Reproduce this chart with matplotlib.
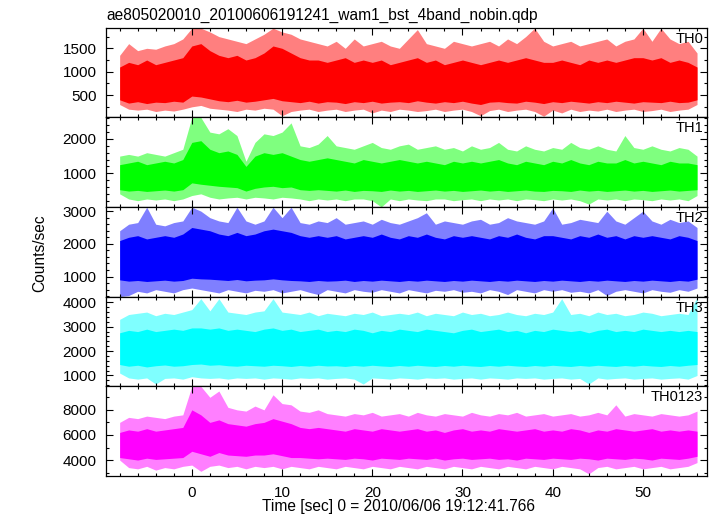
import numpy as np
import matplotlib.pyplot as plt
from matplotlib.ticker import MultipleLocator

plt.rcParams['font.family'] = ['Liberation Sans', 'DejaVu Sans']

title = "ae805020010_20100606191241_wam1_bst_4band_nobin.qdp"
xlabel = "Time [sec] 0 = 2010/06/06 19:12:41.766"
ylabel = "Counts/sec"

# light curves read off per 1 s bin (t = -8 .. 56):
# *_hi / *_lo = spike envelope, *_core_hi / *_core_lo = dense (solid) part
t = np.arange(-8, 57)

th0_hi = [1350, 1600, 1450, 1500, 1480, 1550, 1600, 1700,
          1930, 1930, 1850, 1750, 1700, 1650, 1600, 1700,
          1800, 1930, 1850, 1800, 1700, 1650, 1600, 1550,
          1650, 1500, 1700, 1550, 1600, 1650, 1550, 1500,
          1700, 1900, 1600, 1550, 1500, 1650, 1600, 1550,
          1600, 1650, 1550, 1700, 1600, 1750, 1930, 1650,
          1550, 1600, 1650, 1550, 1600, 1650, 1700, 1550,
          1650, 1700, 1930, 1650, 1930, 1700, 1600, 1650,
          1400]
th0_lo = [300, 200, 180, 200, 150, 180, 160, 200,
          250, 280, 220, 200, 180, 150, 200, 180,
          220, 200, 60, 150, 180, 200, 150, 180,
          200, 150, 180, 200, 120, 180, 150, 200,
          180, 150, 170, 200, 150, 180, 200, 150,
          60, 170, 200, 150, 180, 200, 150, 50,
          180, 120, 200, 150, 180, 160, 200, 150,
          180, 200, 150, 170, 200, 150, 180, 200,
          300]
th0_core_hi = [1100, 1200, 1150, 1250, 1150, 1200, 1250, 1300,
               1550, 1600, 1450, 1350, 1300, 1350, 1250, 1300,
               1400, 1550, 1500, 1400, 1300, 1250, 1250, 1200,
               1250, 1300, 1200, 1250, 1200, 1250, 1150, 1200,
               1250, 1300, 1200, 1250, 1150, 1200, 1250, 1200,
               1150, 1200, 1250, 1200, 1250, 1300, 1250, 1200,
               1200, 1250, 1200, 1150, 1250, 1200, 1250, 1200,
               1250, 1300, 1300, 1250, 1300, 1200, 1250, 1200,
               1100]
th0_core_lo = [400, 330, 360, 320, 350, 340, 370, 350,
               480, 460, 420, 380, 360, 390, 350, 370,
               400, 430, 380, 360, 340, 370, 330, 360,
               350, 320, 360, 340, 370, 330, 350, 360,
               340, 380, 350, 330, 360, 340, 370, 330,
               300, 350, 360, 340, 330, 370, 350, 320,
               360, 340, 370, 350, 330, 360, 340, 370,
               350, 330, 360, 350, 340, 370, 340, 350,
               400]

th1_hi = [1500, 1550, 1500, 1600, 1550, 1500, 1600, 1700,
          2630, 2630, 2200, 2150, 2300, 2100, 1350, 1900,
          2150, 2100, 2200, 2470, 1800, 1750, 1850, 2100,
          1800, 1750, 1700, 1800, 1900, 1750, 1700, 1800,
          1850, 1700, 1750, 1800, 1700, 1750, 1650, 1800,
          1700, 1750, 1900, 1700, 1650, 1800, 1700, 1650,
          1750, 1700, 1900, 1750, 1700, 1800, 1700, 1650,
          2100, 1750, 1700, 1800, 1700, 1650, 1750, 1700,
          1500]
th1_lo = [400, 250, 200, 250, 220, 250, 200, 250,
          350, 400, 300, 250, 280, 300, 250, 300,
          280, 250, 300, 280, 250, 200, 250, 220,
          250, 200, 250, 250, 200, 20, 250, 200,
          250, 220, 200, 250, 250, 200, 230, 250,
          200, 250, 220, 250, 200, 250, 230, 200,
          250, 220, 250, 200, 100, 250, 220, 250,
          200, 250, 230, 200, 250, 220, 250, 200,
          350]
th1_core_hi = [1250, 1300, 1350, 1250, 1300, 1350, 1300, 1400,
               1900, 1950, 1700, 1600, 1650, 1550, 1200, 1500,
               1600, 1550, 1600, 1500, 1400, 1350, 1400, 1450,
               1400, 1350, 1300, 1400, 1350, 1300, 1350, 1400,
               1350, 1300, 1350, 1300, 1250, 1350, 1300, 1350,
               1300, 1350, 1400, 1300, 1250, 1350, 1300, 1250,
               1350, 1300, 1400, 1300, 1250, 1350, 1300, 1300,
               1400, 1300, 1350, 1300, 1250, 1350, 1300, 1300,
               1250]
th1_core_lo = [520, 480, 500, 470, 490, 510, 480, 520,
               720, 680, 650, 620, 600, 580, 480, 560,
               600, 620, 580, 600, 520, 500, 520, 500,
               480, 510, 470, 500, 490, 470, 510, 480,
               500, 470, 490, 510, 480, 500, 470, 490,
               510, 480, 500, 470, 490, 510, 480, 470,
               500, 490, 470, 510, 480, 500, 470, 490,
               510, 480, 500, 470, 490, 510, 480, 500,
               520]

th2_hi = [2400, 2600, 2650, 3120, 2600, 2550, 2650, 2700,
          3120, 3000, 2800, 2700, 2650, 3120, 2700, 2600,
          2700, 3120, 2800, 3120, 2650, 2600, 2700, 2650,
          2800, 2600, 2650, 2700, 2600, 2750, 2650, 2600,
          2700, 2800, 2950, 2600, 2700, 2650, 2600, 2700,
          2750, 2600, 2650, 2800, 2700, 2650, 2600, 2700,
          3100, 2600, 2650, 2750, 2700, 2650, 3000, 2700,
          2600, 2800, 3000, 2700, 2600, 2750, 2650, 2700,
          2500]
th2_lo = [390, 420, 550, 500, 600, 550, 500, 600,
          650, 600, 550, 500, 600, 550, 500, 580,
          550, 600, 500, 550, 600, 520, 450, 600,
          550, 500, 600, 550, 520, 600, 550, 500,
          600, 550, 500, 580, 550, 600, 520, 550,
          500, 600, 550, 450, 600, 550, 500, 600,
          550, 600, 520, 550, 500, 600, 420, 550,
          600, 550, 500, 600, 550, 520, 600, 550,
          650]
th2_core_hi = [2100, 2200, 2250, 2150, 2200, 2250, 2200, 2300,
               2500, 2450, 2400, 2300, 2250, 2350, 2250, 2300,
               2400, 2450, 2400, 2350, 2250, 2200, 2250, 2200,
               2250, 2150, 2200, 2250, 2200, 2300, 2200, 2150,
               2250, 2200, 2300, 2200, 2150, 2250, 2200, 2250,
               2200, 2150, 2250, 2200, 2300, 2200, 2150, 2250,
               2250, 2200, 2150, 2250, 2200, 2300, 2200, 2250,
               2150, 2250, 2200, 2250, 2200, 2150, 2250, 2200,
               2100]
th2_core_lo = [900, 860, 880, 850, 870, 890, 860, 880,
               950, 930, 920, 900, 880, 910, 870, 890,
               900, 930, 900, 880, 870, 850, 880, 860,
               870, 890, 850, 880, 860, 890, 870, 850,
               880, 860, 890, 870, 850, 880, 860, 890,
               870, 850, 880, 860, 890, 870, 850, 880,
               860, 890, 870, 850, 880, 860, 890, 870,
               850, 880, 860, 890, 870, 850, 880, 860,
               920]

th3_hi = [3300, 3500, 3550, 3600, 3450, 3550, 3500, 3600,
          3700, 4150, 3650, 4150, 3600, 3550, 3500, 3600,
          3650, 4150, 3600, 3550, 3500, 3600, 3450, 3550,
          3500, 3450, 3550, 3500, 3600, 3450, 3500, 3550,
          3500, 3600, 3450, 3550, 3500, 3450, 3600, 3500,
          3550, 3450, 3500, 3600, 3500, 3450, 3550, 3500,
          3600, 4150, 3500, 3550, 3450, 3600, 3500, 3550,
          3450, 3500, 3600, 3550, 3450, 3500, 3550, 3500,
          4200]
th3_lo = [1100, 900, 850, 900, 650, 880, 900, 850,
          950, 900, 880, 900, 850, 900, 880, 900,
          850, 900, 880, 850, 900, 880, 900, 850,
          880, 900, 850, 650, 900, 880, 850, 900,
          880, 850, 900, 880, 900, 850, 880, 900,
          850, 900, 880, 850, 900, 880, 900, 850,
          880, 900, 850, 880, 650, 900, 850, 880,
          900, 850, 880, 900, 850, 880, 900, 850,
          1000]
th3_core_hi = [2750, 2850, 2800, 2900, 2800, 2850, 2900, 2850,
               2950, 2950, 2900, 2950, 2850, 2900, 2850, 2800,
               2900, 2950, 2850, 2900, 2800, 2850, 2900, 2800,
               2850, 2800, 2900, 2850, 2750, 2850, 2800, 2900,
               2850, 2800, 2900, 2850, 2800, 2750, 2850, 2900,
               2800, 2850, 2900, 2800, 2850, 2750, 2850, 2800,
               2900, 2850, 2800, 2850, 2750, 2850, 2900, 2800,
               2850, 2800, 2900, 2850, 2800, 2850, 2800, 2850,
               2800]
th3_core_lo = [1450, 1380, 1420, 1350, 1400, 1430, 1380, 1400,
               1450, 1470, 1420, 1440, 1400, 1380, 1420, 1400,
               1380, 1420, 1400, 1370, 1410, 1380, 1420, 1390,
               1400, 1370, 1410, 1380, 1420, 1390, 1370, 1410,
               1380, 1420, 1390, 1370, 1410, 1380, 1420, 1390,
               1370, 1410, 1380, 1420, 1390, 1370, 1410, 1380,
               1420, 1390, 1370, 1410, 1380, 1420, 1390, 1370,
               1410, 1380, 1420, 1390, 1370, 1410, 1380, 1420,
               1450]

th0123_hi = [7000, 7400, 7300, 7500, 7400, 7300, 7500, 7600,
             9870, 9870, 9000, 9500, 8200, 8000, 7900, 8300,
             8000, 9200, 8500, 8400, 7900, 7800, 8000, 7700,
             7600, 7500, 7700, 7600, 7800, 7500, 7600, 7700,
             7500, 7800, 7600, 7500, 7700, 7600, 7500, 7800,
             7600, 7500, 7700, 7600, 7800, 7500, 7600, 7700,
             7500, 7600, 7700, 7500, 7600, 7800, 7600, 8400,
             7500, 7700, 7600, 7500, 7700, 7600, 7500, 7600,
             7900]
th0123_lo = [4000, 3400, 3300, 3500, 3200, 3400, 3300, 3500,
             3600, 3100, 3500, 3600, 3400, 3500, 3300, 3500,
             3400, 3500, 3300, 3500, 3400, 3300, 3500, 3400,
             3300, 3500, 3400, 3300, 3500, 3400, 3300, 3500,
             3400, 3300, 3500, 3400, 3300, 3500, 3400, 3300,
             3500, 3400, 3300, 3500, 3400, 3300, 3500, 3400,
             3300, 3500, 3400, 3300, 2900, 3400, 3500, 3300,
             3400, 3500, 3300, 3400, 3500, 3300, 3400, 3500,
             3800]
th0123_core_hi = [6200, 6400, 6300, 6500, 6300, 6400, 6500, 6600,
                  8000, 7600, 7000, 7200, 6900, 6800, 6700, 6900,
                  7000, 7300, 7100, 6900, 6600, 6500, 6600, 6500,
                  6400, 6300, 6500, 6400, 6300, 6500, 6400, 6300,
                  6400, 6500, 6300, 6400, 6200, 6400, 6500, 6300,
                  6400, 6300, 6500, 6400, 6300, 6400, 6500, 6300,
                  6400, 6300, 6500, 6400, 6200, 6400, 6300, 6500,
                  6400, 6300, 6400, 6500, 6300, 6400, 6300, 6400,
                  6300]
th0123_core_lo = [4200, 4100, 4000, 4150, 4050, 4100, 4150, 4200,
                  4700, 4500, 4300, 4600, 4400, 4350, 4300, 4400,
                  4400, 4500, 4350, 4200, 4200, 4150, 4100, 4150,
                  4100, 4050, 4150, 4100, 4000, 4150, 4100, 4050,
                  4150, 4100, 4050, 4150, 4000, 4100, 4150, 4050,
                  4100, 4150, 4050, 4100, 4000, 4150, 4100, 4050,
                  4150, 4100, 4050, 4150, 4100, 4000, 4150, 4100,
                  4050, 4150, 4100, 4000, 4150, 4100, 4050, 4150,
                  4300]

panels = [
    ("TH0", "#ff0000", th0_hi, th0_lo, th0_core_hi, th0_core_lo, (25, 1940), [500, 1000, 1500], 250),
    ("TH1", "#00ff00", th1_hi, th1_lo, th1_core_hi, th1_core_lo, (15, 2630), [1000, 2000], 200),
    ("TH2", "#0000ff", th2_hi, th2_lo, th2_core_hi, th2_core_lo, (385, 3125), [1000, 2000, 3000], 200),
    ("TH3", "#00ffff", th3_hi, th3_lo, th3_core_hi, th3_core_lo, (555, 4230), [1000, 2000, 3000, 4000], 200),
    ("TH0123", "#ff00ff", th0123_hi, th0123_lo, th0123_core_hi, th0123_core_lo, (2730, 9870), [4000, 6000, 8000], 1000),
]

fig, axes = plt.subplots(5, 1, sharex=True, figsize=(7.17, 5.16), dpi=100)
fig.subplots_adjust(left=0.148, right=0.986, top=0.9463, bottom=0.0775, hspace=0)

for ax, (name, c, hi, lo, chi, clo, ylim, yt, ymin) in zip(axes, panels):
    ax.fill_between(t, lo, hi, color=c, alpha=0.5, lw=0)
    ax.fill_between(t, clo, chi, color=c, lw=0)
    ax.set_ylim(*ylim)
    ax.set_yticks(yt)
    ax.yaxis.set_minor_locator(MultipleLocator(ymin))
    ax.text(0.994, 0.955, name, transform=ax.transAxes, ha='right', va='top', fontsize=10.5)
    ax.tick_params(which='both', direction='in', top=True, right=True, width=0.8, labelsize=11)
    ax.tick_params(which='major', length=5, pad=7)
    ax.tick_params(which='minor', length=2.5)
    for s in ax.spines.values():
        s.set_linewidth(0.9)

axes[-1].set_xlim(-9.5, 57.1)
axes[-1].xaxis.set_major_locator(MultipleLocator(10))
axes[-1].xaxis.set_minor_locator(MultipleLocator(2))

fig.text(0.149, 0.971, title, fontsize=11.2, ha='left', va='center')
fig.text(0.556, 0.019, xlabel, fontsize=11.2, ha='center', va='center')
fig.text(0.056, 0.51, ylabel, fontsize=11.2, ha='center', va='center', rotation=90)

fig.savefig("out.png", dpi=100)
